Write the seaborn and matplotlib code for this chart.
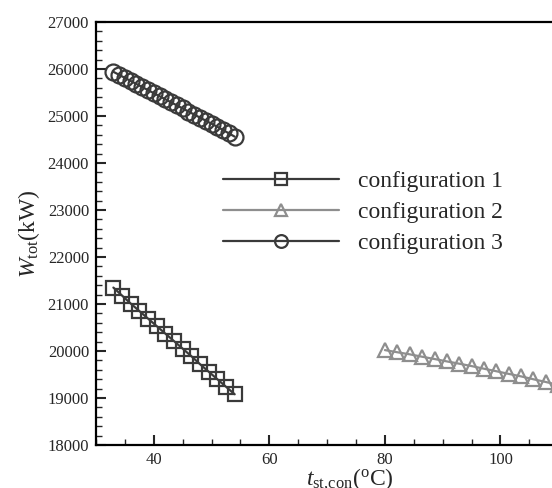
import matplotlib
matplotlib.use("Agg")
import matplotlib.pyplot as plt
import seaborn as sns
from matplotlib.ticker import MultipleLocator

# data
x_conf1 = [33, 34.5, 36, 37.5, 39, 40.5, 42, 43.5, 45, 46.5, 48, 49.5, 51, 52.5, 54]
w_conf1 = [21350, 21180, 21010, 20850, 20690, 20530, 20370, 20210, 20050, 19890,
           19720, 19560, 19400, 19240, 19080]

x_conf2 = [80, 82.1, 84.3, 86.4, 88.6, 90.7, 92.9, 95, 97.1, 99.3, 101.4, 103.6, 105.7, 107.9, 110]
w_conf2 = [20020, 19975, 19930, 19880, 19830, 19780, 19730, 19680, 19625, 19570,
           19515, 19460, 19400, 19340, 19280]

x_conf3 = [33, 34, 35, 36, 37, 38, 39, 40, 41, 42, 43, 44, 45, 46, 47, 48, 49, 50, 51, 52, 53, 54]
w_conf3 = [25940, 25875, 25810, 25745, 25680, 25615, 25550, 25485, 25420, 25355, 25290,
           25225, 25160, 25095, 25030, 24965, 24900, 24835, 24770, 24700, 24630, 24560]

sns.set_style("ticks")
plt.rcParams['font.family'] = ['Liberation Serif', 'DejaVu Serif']
plt.rcParams['mathtext.fontset'] = 'custom'
plt.rcParams['mathtext.rm'] = 'Liberation Serif'
plt.rcParams['mathtext.it'] = 'Liberation Serif:italic'

fig = plt.figure(figsize=(5.52, 4.88), dpi=100)
# right edge of the axes lies outside the picture, as in the cropped original
ax = fig.add_axes([0.174, 0.088, 1.095 - 0.174, 0.955 - 0.088])

dark = "#3a3a3a"
light = "#8e8e8e"
sns.lineplot(x=x_conf1, y=w_conf1, ax=ax, color=dark, marker='s', markersize=10,
             markerfacecolor='none', markeredgecolor=dark, markeredgewidth=1.6,
             linewidth=1.6, label="configuration 1")
sns.lineplot(x=x_conf2, y=w_conf2, ax=ax, color=light, marker='^', markersize=10,
             markerfacecolor='none', markeredgecolor=light, markeredgewidth=1.6,
             linewidth=1.6, label="configuration 2")
sns.lineplot(x=x_conf3, y=w_conf3, ax=ax, color=dark, marker='o', markersize=11.5,
             markerfacecolor='none', markeredgecolor=dark, markeredgewidth=1.6,
             linewidth=1.6, label="configuration 3")

ax.set_xlim(30, 118)
ax.set_ylim(18000, 27000)
ax.xaxis.set_major_locator(MultipleLocator(20))
ax.xaxis.set_minor_locator(MultipleLocator(5))
ax.yaxis.set_major_locator(MultipleLocator(1000))
ax.yaxis.set_minor_locator(MultipleLocator(200))
ax.tick_params(which='major', direction='in', length=7, width=1.5, labelsize=12, pad=5)
ax.tick_params(which='minor', direction='in', length=4, width=1)
for s in ax.spines.values():
    s.set_linewidth(1.6)
    s.set_color("black")

ax.set_xlabel(r'$\mathit{t}_{\mathrm{st{,}con}}(^{\mathrm{o}}\mathrm{C})$', fontsize=17, labelpad=-1)
ax.set_ylabel(r'$\mathit{W}_{\mathrm{tot}}(\mathrm{kW})$', fontsize=17, labelpad=4)

ax.legend(loc='upper left', bbox_to_anchor=(0.387, 0.67), bbox_transform=fig.transFigure,
          frameon=False, fontsize=17, handlelength=4.9, handletextpad=0.8,
          labelspacing=0.4, borderaxespad=0, markerscale=0.8)

fig.savefig("out.png", dpi=100)
